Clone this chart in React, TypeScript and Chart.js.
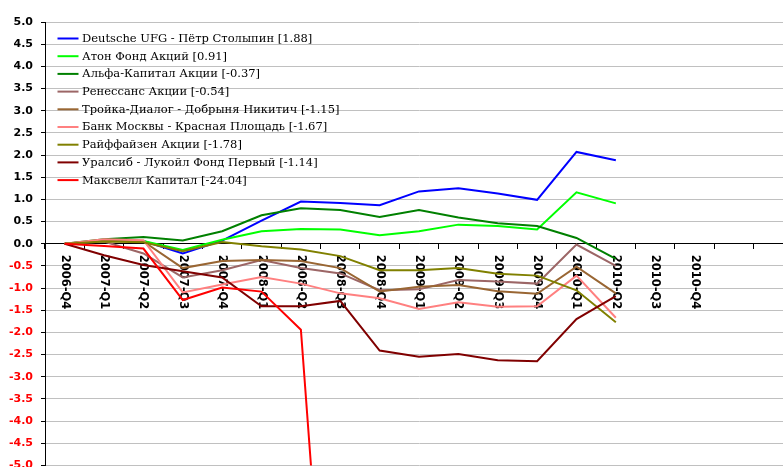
import React, { useEffect, useRef } from 'react';
import { Chart, registerables } from 'chart.js';

Chart.register(...registerables);

const categories = [
  '2006-Q4', '2007-Q1', '2007-Q2', '2007-Q3', '2007-Q4',
  '2008-Q1', '2008-Q2', '2008-Q3', '2008-Q4',
  '2009-Q1', '2009-Q2', '2009-Q3', '2009-Q4',
  '2010-Q1', '2010-Q2', '2010-Q3', '2010-Q4', '', '',
];

const deutsche = [0, 0.07, 0.06, -0.22, 0.07, 0.52, 0.95, 0.92, 0.87, 1.18, 1.25, 1.13, 0.99, 2.07, 1.88];
const aton = [0, 0.08, 0.06, -0.14, 0.09, 0.28, 0.33, 0.32, 0.19, 0.28, 0.43, 0.40, 0.32, 1.16, 0.91];
const alfa = [0, 0.1, 0.15, 0.07, 0.28, 0.64, 0.8, 0.76, 0.6, 0.76, 0.59, 0.46, 0.40, 0.13, -0.34];
const renaissance = [0, 0.05, -0.22, -0.76, -0.6, -0.37, -0.55, -0.67, -1.05, -1.03, -0.82, -0.85, -0.9, -0.02, -0.5];
const troika = [0, 0.06, 0.05, -0.55, -0.39, -0.37, -0.39, -0.55, -1.08, -0.97, -0.93, -1.07, -1.13, -0.52, -1.12];
const bankMoscow = [0, 0.1, 0.08, -1.1, -0.92, -0.75, -0.9, -1.12, -1.23, -1.47, -1.32, -1.42, -1.41, -0.72, -1.67];
const raiffeisen = [0, 0.05, 0.03, -0.17, 0.04, -0.06, -0.13, -0.28, -0.6, -0.6, -0.55, -0.68, -0.72, -1.05, -1.77];
const uralsib = [0, -0.26, -0.48, -0.62, -0.76, -1.41, -1.41, -1.29, -2.41, -2.55, -2.49, -2.63, -2.65, -1.70, -1.18];
const maxwell = [0, -0.05, -0.11, -1.27, -0.99, -1.08, -1.94, -13.9, null, null, null, null, null, null, -24.04];

const seriesNames = [
  'Deutsche UFG - Пётр Столыпин [1.88]',
  'Атон Фонд Акций [0.91]',
  'Альфа-Капитал Акции [-0.37]',
  'Ренессанс Акции [-0.54]',
  'Тройка-Диалог - Добрыня Никитич [-1.15]',
  'Банк Москвы - Красная Площадь [-1.67]',
  'Райффайзен Акции [-1.78]',
  'Уралсиб - Лукойл Фонд Первый [-1.14]',
  'Максвелл Капитал [-24.04]',
];
const seriesValues = [deutsche, aton, alfa, renaissance, troika, bankMoscow, raiffeisen, uralsib, maxwell];
const seriesColors = ['#0000ff', '#00ff00', '#008000', '#9c6666', '#996633', '#ff8080', '#808000', '#800000', '#ff0000'];

const xLabelsPlugin = {
  id: 'xLabelsRotated',
  beforeDatasetsDraw(chart: any) {
    const { ctx, scales } = chart;
    const x = scales.x;
    const y = scales.y;
    const y0 = y.getPixelForValue(0);
    ctx.save();
    ctx.font = 'bold 11.5px "DejaVu Sans"';
    ctx.fillStyle = '#000000';
    ctx.textAlign = 'left';
    ctx.textBaseline = 'middle';
    categories.forEach((lab, i) => {
      if (!lab) return;
      const px = x.getPixelForValue(i);
      ctx.save();
      ctx.translate(px, y0 + 11);
      ctx.rotate(Math.PI / 2);
      ctx.fillText(lab, 0, 0);
      ctx.restore();
    });
    ctx.restore();
  },
};

const insideLegendPlugin = {
  id: 'insideLegend',
  afterDraw(chart: any) {
    const { ctx, chartArea } = chart;
    const left = chartArea.left + 12.5;
    const top = chartArea.top + 16.5;
    ctx.save();
    ctx.font = '11.5px "DejaVu Serif"';
    ctx.textBaseline = 'middle';
    ctx.textAlign = 'left';
    chart.data.datasets.forEach((ds: any, i: number) => {
      const yy = top + i * 17.7;
      ctx.strokeStyle = ds.borderColor;
      ctx.lineWidth = 2;
      ctx.beginPath();
      ctx.moveTo(left, yy);
      ctx.lineTo(left + 21, yy);
      ctx.stroke();
      ctx.fillStyle = '#000000';
      ctx.fillText(ds.label, left + 24.5, yy + 0.5);
    });
    ctx.restore();
  },
};

export default function App() {
  const canvasRef = useRef<HTMLCanvasElement | null>(null);

  useEffect(() => {
    const canvas = canvasRef.current;
    if (!canvas) return;
    const n = seriesValues.length;
    const chart = new Chart(canvas, {
      type: 'line',
      data: {
        labels: categories,
        datasets: seriesValues.map((vals, i) => ({
          label: seriesNames[i],
          data: vals,
          borderColor: seriesColors[i],
          backgroundColor: seriesColors[i],
          borderWidth: 2,
          pointRadius: 0,
          pointHoverRadius: 0,
          tension: 0,
          fill: false,
          order: n - i,
        })),
      },
      options: {
        animation: false,
        responsive: false,
        devicePixelRatio: 1,
        layout: { padding: { left: 0, top: 22, right: 7, bottom: 12 } },
        plugins: {
          legend: { display: false },
          tooltip: { enabled: false },
        },
        scales: {
          x: {
            type: 'category',
            offset: true,
            position: { y: 0 } as any,
            grid: {
              display: true,
              drawOnChartArea: false,
              drawTicks: true,
              tickLength: 5,
              tickColor: '#000000',
              offset: true,
            },
            border: { display: true, color: '#000000', width: 1 },
            ticks: { display: false },
          },
          y: {
            min: -5,
            max: 5,
            afterFit: (s: any) => { s.width = 45; },
            ticks: {
              stepSize: 0.5,
              padding: 8,
              callback: (v: any) => Number(v).toFixed(1),
              color: (c: any) => (c.tick && c.tick.value < 0 ? '#ff0000' : '#000000'),
              font: { family: 'DejaVu Sans', size: 11, weight: 'bold' },
            },
            grid: {
              color: (c: any) => (c.tick && c.tick.value === 0 ? '#000000' : '#c0c0c0'),
              tickColor: '#000000',
              tickLength: 4,
              drawTicks: true,
            },
            border: { display: true, color: '#000000', width: 1 },
          },
        },
      },
      plugins: [xLabelsPlugin, insideLegendPlugin],
    });
    return () => chart.destroy();
  }, []);

  return (
    <div style={{ position: 'absolute', left: 0, top: 0, width: 783, height: 467, overflow: 'hidden', background: '#ffffff' }}>
      <canvas ref={canvasRef} width={800} height={480} style={{ display: 'block' }} />
    </div>
  );
}
